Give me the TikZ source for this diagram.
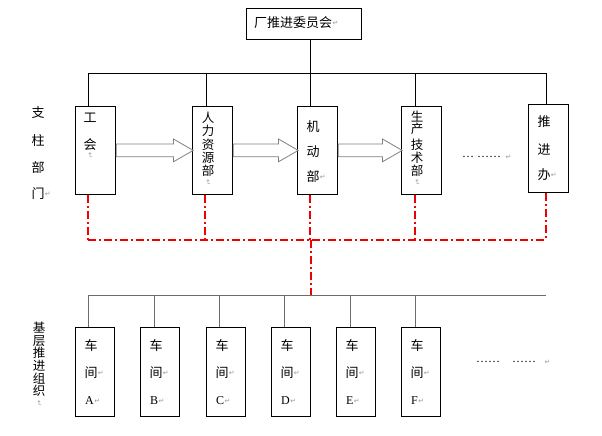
\documentclass[tikz,border=0pt]{standalone}
\usepackage{fontspec}
\setmainfont{Liberation Serif}
\newfontfamily\cjk{Noto Sans CJK SC}
\newfontfamily\dejavu{DejaVu Sans}
\usetikzlibrary{shapes.arrows,calc}
\begin{document}
\begin{tikzpicture}[x=1pt,y=-1pt,
  box/.style={draw,line width=0.8pt,minimum width=40pt,minimum height=88pt,inner sep=0,anchor=north west},
  bbox/.style={box,minimum width=39pt,minimum height=89pt},
  ch/.style={font=\cjk\fontsize{13}{13}\selectfont,inner sep=0,anchor=center},
  chs/.style={font=\cjk\fontsize{12.5}{13}\selectfont,inner sep=0,anchor=center},
  lat/.style={font=\fontsize{12}{13}\selectfont,inner sep=0},
  pm/.style={font=\dejavu\fontsize{7}{7}\selectfont,text=gray!80,inner sep=0},
  pmv/.style={pm,rotate=-90},
  conn/.style={line width=0.8pt},
  gconn/.style={line width=1pt,draw=gray!85!black},
  redl/.style={draw=red!95!black,line width=1.6pt,dash pattern=on 8pt off 3pt on 2pt off 3pt},
  blk/.style={single arrow,draw=gray,fill=white,line width=0.8pt,minimum width=22pt,
    single arrow head extend=5pt,single arrow tip angle=60,inner xsep=0pt,inner ysep=6pt,
    single arrow head indent=0pt,anchor=tail}
]
\useasboundingbox (0,0) rectangle (602,436);

% top box
\node[draw,line width=0.8pt,anchor=north west,minimum width=115pt,minimum height=31pt,inner sep=0] (top) at (246,8) {};
\node[ch,anchor=west] (toptext) at (254,23) {厂推进委员会};
\node[pm,anchor=west] (toppm) at (toptext.east) {↵};

% row 1 boxes
\node[box] (g1) at (75,106) {};
\node[box] (g2) at (192,106) {};
\node[box] (g3) at (297,106) {};
\node[box] (g4) at (401,106) {};
\node[box] (g5) at (528,104) {};

% bus and connectors top
\coordinate (tb) at (310,73);
\coordinate (busL) at (88,73);
\coordinate (busR) at (546,73);
\draw[conn] (tb |- top.south) -- (tb);
\draw[conn] (busL) -- (busR);
\coordinate (c1) at (88,73);
\coordinate (c2) at (206,73);
\coordinate (c3) at (310,73);
\coordinate (c4) at (415,73);
\coordinate (c5) at (546,73);
\draw[conn] (c1) -- (c1 |- g1.north);
\draw[conn] (c2) -- (c2 |- g2.north);
\draw[conn] (c3) -- (c3 |- g3.north);
\draw[conn] (c4) -- (c4 |- g4.north);
\draw[conn] (c5) -- (c5 |- g5.north);

% block arrows
\node[blk,minimum height=77pt] (a1) at (g1.east) {};
\node[blk,minimum height=65pt] (a2) at (g2.east) {};
\node[blk,minimum height=64pt] (a3) at (g3.east) {};

% texts row 1
\node[ch] (t11) at (90,118) {工};
\node[ch] (t12) at (90,145) {会};
\node[pmv] (t13) at (90,155) {↵};

\node[chs] (t21) at (208,118) {人};
\node[chs] (t22) at (208,131) {力};
\node[chs] (t23) at (208,145) {资};
\node[chs] (t24) at (208,158) {源};
\node[chs] (t25) at (208,171) {部};
\node[pmv] (t26) at (208,182) {↵};

\node[ch] (t31) at (313,127) {机};
\node[ch] (t32) at (313,152) {动};
\node[ch] (t33) at (313,177) {部};
\node[pm,anchor=west] (t34) at (t33.east) {↵};

\node[chs] (t41) at (417,117) {生};
\node[chs] (t42) at (417,129) {产};
\node[chs] (t43) at (417,145) {技};
\node[chs] (t44) at (417,158) {术};
\node[chs] (t45) at (417,171) {部};
\node[pmv] (t46) at (417,182) {↵};

\node[ch] (t51) at (544,122) {推};
\node[ch] (t52) at (544,150) {进};
\node[ch] (t53) at (544,175) {办};
\node[pm,anchor=west] (t54) at (t53.east) {↵};

\node[lat,anchor=west] (dots1) at (462,157) {\ldots\ \ldots\ldots};
\node[pm,anchor=west] (dots1pm) at ([xshift=4pt]dots1.east) {↵};

% left labels
\node[ch] (l1) at (38,113) {支};
\node[ch] (l2) at (38,141) {柱};
\node[ch] (l3) at (38,168) {部};
\node[ch] (l4) at (38,194) {门};
\node[pm,anchor=west] (l4pm) at (l4.east) {↵};

\node[chs] (m1) at (39,328) {基};
\node[chs] (m2) at (39,341) {层};
\node[chs] (m3) at (39,353) {推};
\node[chs] (m4) at (39,366) {进};
\node[chs] (m5) at (39,379) {组};
\node[chs] (m6) at (39,391) {织};
\node[pmv] (m7) at (39,403) {↵};

% red dash-dot
\coordinate (r1) at (88,240);
\coordinate (r2) at (205,240);
\coordinate (r3) at (310,240);
\coordinate (r4) at (415,240);
\coordinate (r5) at (546,240);
\coordinate (rc) at (311,240);
\coordinate (bb) at (311,295);
\draw[redl] (r1 |- g1.south) -- (r1);
\draw[redl] (r2 |- g2.south) -- (r2);
\draw[redl] (r3 |- g3.south) -- (r3);
\draw[redl] (r4 |- g4.south) -- (r4);
\draw[redl] (r5 |- g5.south) -- (r5);
\draw[redl] (r1) -- (r5);
\draw[redl] (rc) -- (bb);

% bottom bus
\coordinate (bL) at (88,295);
\coordinate (bR) at (546,295);
\draw[gconn] (bL) -- (bR);

\node[bbox] (w1) at (75,327) {};
\node[bbox] (w2) at (140,327) {};
\node[bbox] (w3) at (206,327) {};
\node[bbox] (w4) at (271,327) {};
\node[bbox] (w5) at (336,327) {};
\node[bbox] (w6) at (401,327) {};

\coordinate (d1) at (88,295);
\coordinate (d2) at (154,295);
\coordinate (d3) at (219,295);
\coordinate (d4) at (284,295);
\coordinate (d5) at (350,295);
\coordinate (d6) at (415,295);
\draw[gconn] (d1) -- (d1 |- w1.north);
\draw[gconn] (d2) -- (d2 |- w2.north);
\draw[gconn] (d3) -- (d3 |- w3.north);
\draw[gconn] (d4) -- (d4 |- w4.north);
\draw[gconn] (d5) -- (d5 |- w5.north);
\draw[gconn] (d6) -- (d6 |- w6.north);

\foreach \n/\x/\L in {1/91/A,2/156/B,3/222/C,4/287/D,5/352/E,6/417/F}{
  \node[ch] (wa\n) at (\x,346) {车};
  \node[ch] (wb\n) at (\x,373) {间};
  \node[pm,anchor=west] (wbp\n) at (wb\n.east) {↵};
  \node[lat,anchor=west] (wc\n) at (\x-6,401) {\L};
  \node[pm,anchor=west] (wcp\n) at (wc\n.east) {↵};
}

\node[lat,anchor=west] (dots2) at (476,362) {\ldots\ldots\quad\ldots\ldots};
\node[pm,anchor=west] (dots2pm) at ([xshift=8pt]dots2.east) {↵};
\end{tikzpicture}
\end{document}
